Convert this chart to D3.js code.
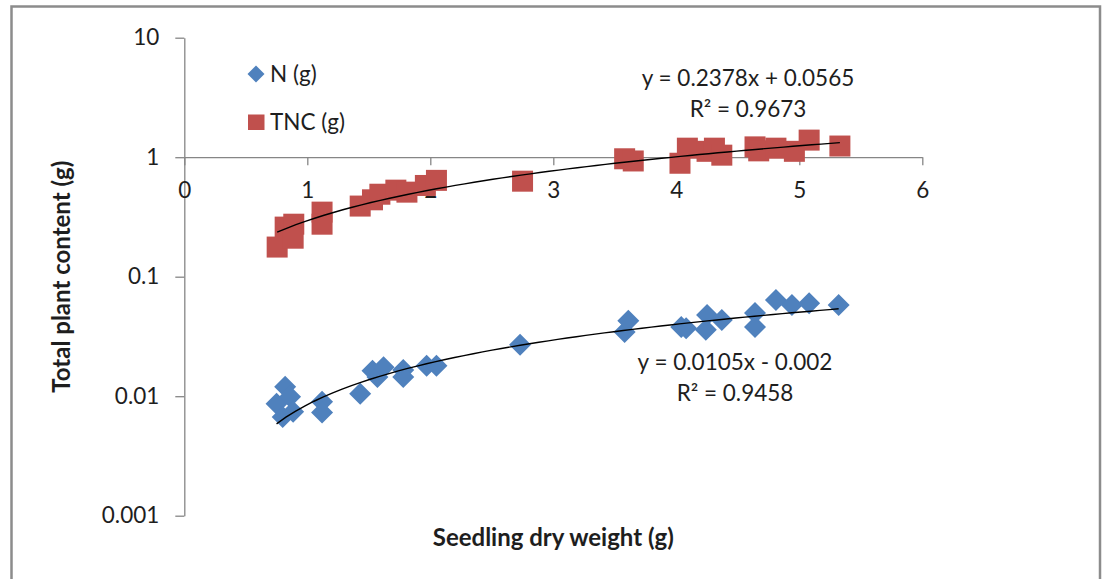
<!DOCTYPE html>
<html>
<head>
<meta charset="utf-8">
<script src="https://cdn.jsdelivr.net/npm/d3@7"></script>
<style>
  body { margin: 0; background: #fff; }
  svg { display: block; font-family: Lato, "Open Sans", sans-serif; }
</style>
</head>
<body>
<div id="chart"></div>
<script>
// seedling dry weight (g) vs N content (g)
const nX = [0.75, 0.80, 0.82, 0.86, 0.885, 1.12, 1.12, 1.43, 1.53, 1.57, 1.62, 1.78, 1.78, 1.97, 2.05,
            2.73, 3.58, 3.61, 4.04, 4.08, 4.24, 4.25, 4.37, 4.64, 4.64, 4.81, 4.94, 5.08, 5.32];
const nY = [0.00865, 0.0067, 0.012, 0.0099, 0.0074, 0.0090, 0.0073, 0.0105, 0.0163, 0.0145, 0.0175, 0.0166, 0.0145, 0.018, 0.018,
            0.0269, 0.0345, 0.0427, 0.038, 0.037, 0.036, 0.0479, 0.0434, 0.0497, 0.038, 0.0638, 0.058, 0.060, 0.058];

// seedling dry weight (g) vs TNC content (g)
const tncX = [0.755, 0.82, 0.89, 0.885, 1.12, 1.12, 1.43, 1.53, 1.59, 1.72, 1.81, 1.96, 2.05, 2.75,
              3.58, 3.65, 4.03, 4.09, 4.25, 4.31, 4.37, 4.64, 4.67, 4.81, 4.96, 5.08, 5.33];
const tncY = [0.177, 0.26, 0.275, 0.21, 0.347, 0.275, 0.39, 0.44, 0.49, 0.53, 0.51, 0.58, 0.64, 0.63,
              0.97, 0.93, 0.89, 1.19, 1.12, 1.19, 1.04, 1.22, 1.13, 1.19, 1.12, 1.39, 1.24];

// linear trend lines (slope, intercept) as printed on the chart
const nTrend = [0.0105, -0.002];
const tncTrend = [0.2378, 0.0565];
const nEq = ["y = 0.0105x - 0.002", "R² = 0.9458"];
const tncEq = ["y = 0.2378x + 0.0565", "R² = 0.9673"];

const xTicks = [0, 1, 2, 3, 4, 5, 6];
const yTicks = [0.001, 0.01, 0.1, 1, 10];
const yTickLabels = ["0.001", "0.01", "0.1", "1", "10"];
const seriesNames = ["N (g)", "TNC (g)"];

const W = 1103, H = 579;
const blue = "#4f81bd", red = "#c0504d", axisCol = "#868686", txt = "#1e1e1e";
const fs = "22.5px";

const svg = d3.select("#chart").append("svg").attr("width", W).attr("height", H);

// chart border
svg.append("rect")
  .attr("x", 11.5).attr("y", 6.5).attr("width", 1088.5).attr("height", 590)
  .attr("fill", "none").attr("stroke", "#8c8c8c").attr("stroke-width", 2.5);

const x = d3.scaleLinear().domain([0, 6]).range([184.3, 922.3]);
const y = d3.scaleLog().domain([0.001, 10]).range([515.7, 37.7]);

// y axis
const yAxis = svg.append("g")
  .attr("transform", "translate(" + x(0) + ",0)")
  .call(d3.axisLeft(y).tickValues(yTicks)
    .tickFormat((d, i) => yTickLabels[i]).tickSize(9).tickSizeOuter(0).tickPadding(16));
yAxis.select(".domain").attr("stroke", axisCol).attr("stroke-width", 1.3);
yAxis.selectAll(".tick line").attr("stroke", axisCol).attr("stroke-width", 1.3);
yAxis.selectAll("text").attr("fill", txt).style("font-size", fs).style("font-family", "Lato, sans-serif");

// x axis crosses at y = 1
const xAxis = svg.append("g")
  .attr("transform", "translate(0," + y(1) + ")")
  .call(d3.axisBottom(x).tickValues(xTicks).tickFormat(d3.format("d"))
    .tickSize(8).tickSizeOuter(0).tickPadding(17));
xAxis.select(".domain").attr("stroke", axisCol).attr("stroke-width", 1.3);
xAxis.selectAll(".tick line").attr("stroke", axisCol).attr("stroke-width", 1.3);
xAxis.selectAll("text").attr("fill", txt).style("font-size", fs).style("font-family", "Lato, sans-serif");

// points
const nData = nX.map((v, i) => ({x: v, y: nY[i]}));
const tncData = tncX.map((v, i) => ({x: v, y: tncY[i]}));

const diamond = s => "M0," + (-s) + "L" + s + ",0L0," + s + "L" + (-s) + ",0Z";

svg.append("g").selectAll("rect")
  .data(tncData).join("rect")
  .attr("x", d => x(d.x) - 10.5).attr("y", d => y(d.y) - 10.5)
  .attr("width", 21).attr("height", 21)
  .attr("fill", red);

svg.append("g").selectAll("path")
  .data(nData).join("path")
  .attr("transform", d => "translate(" + x(d.x) + "," + y(d.y) + ")")
  .attr("d", diamond(11))
  .attr("fill", blue);

// trend lines
function trendPts(xs, coef) {
  const lo = d3.min(xs), hi = d3.max(xs);
  return d3.range(0, 61).map(k => {
    const xv = lo + (hi - lo) * k / 60;
    return {x: xv, y: coef[0] * xv + coef[1]};
  });
}
const line = d3.line().x(d => x(d.x)).y(d => y(d.y));
[[tncX, tncTrend], [nX, nTrend]].forEach(t => {
  svg.append("path")
    .datum(trendPts(t[0], t[1]))
    .attr("d", line)
    .attr("fill", "none").attr("stroke", "#000").attr("stroke-width", 1.4);
});

// equations
function eq(lines, cx, cy) {
  lines.forEach((s, i) => {
    svg.append("text")
      .attr("x", cx).attr("y", cy + i * 31)
      .attr("text-anchor", "middle").attr("dy", "0.35em")
      .attr("fill", txt).style("font-size", fs)
      .text(s);
  });
}
eq(tncEq, 748, 78);
eq(nEq, 735, 362);

// legend
const leg = svg.append("g");
leg.append("path").attr("transform", "translate(256,74)").attr("d", diamond(8.5)).attr("fill", blue);
leg.append("rect").attr("x", 248).attr("y", 114.5).attr("width", 16.5).attr("height", 15.5).attr("fill", red);
seriesNames.forEach((s, i) => {
  leg.append("text").attr("x", 270).attr("y", 74 + i * 48).attr("dy", "0.35em")
    .attr("fill", txt).style("font-size", fs).text(s);
});

// axis titles
svg.append("text")
  .attr("x", (x(0) + x(6)) / 2).attr("y", 538).attr("dy", "0.35em")
  .attr("text-anchor", "middle").attr("fill", txt)
  .style("font-size", "24px").style("font-weight", "bold")
  .text("Seedling dry weight (g)");

svg.append("text")
  .attr("transform", "translate(62," + (y(0.001) + y(10)) / 2 + ") rotate(-90)")
  .attr("text-anchor", "middle").attr("dy", "0.35em").attr("fill", txt)
  .style("font-size", "24px").style("font-weight", "bold")
  .text("Total plant content (g)");
</script>
</body>
</html>
